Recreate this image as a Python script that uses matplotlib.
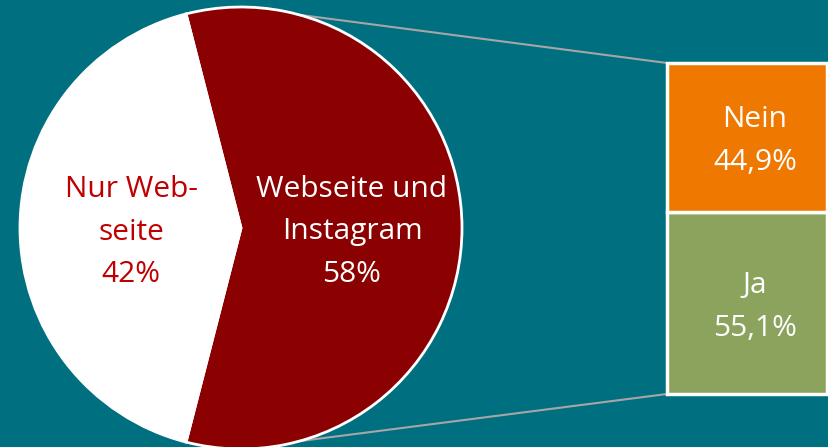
import numpy as np
import matplotlib.pyplot as plt

# pie data
pie_labels = ["Webseite und\nInstagram\n58%", "Nur Web-\nseite\n42%"]
pie_values = [58, 42]
pie_colors = ["#8b0000", "#ffffff"]
pie_text_colors = ["#ffffff", "#c00000"]

# breakdown bar data (bottom to top)
bar_labels = ["Ja\n55,1%", "Nein\n44,9%"]
bar_values = [55.1, 44.9]
bar_colors = ["#8ca35e", "#ef7800"]

bg = "#006f80"
W, H = 829, 447

fig = plt.figure(figsize=(W / 100, H / 100), dpi=100, facecolor=bg)
ax = fig.add_axes([0, 0, 1, 1])
ax.set_facecolor(bg)

plt.rcParams["font.family"] = ["Open Sans", "DejaVu Sans"]

cx, cy, r = 241, 219, 221
start = -pie_values[0] / 100 * 360 / 2
wedges, _ = ax.pie(pie_values, colors=pie_colors, startangle=start, counterclock=True,
                   center=(cx, cy), radius=r, frame=True,
                   wedgeprops=dict(edgecolor="white", linewidth=2))
ax.set_xlim(0, W)
ax.set_ylim(0, H)
ax.set_aspect("equal")
ax.axis("off")

fs = 21.5
ls = 1.62
ax.text(352, 215, pie_labels[0], ha="center", va="center", fontsize=fs,
        color=pie_text_colors[0], linespacing=ls)
ax.text(131, 215, pie_labels[1], ha="center", va="center", fontsize=fs,
        color=pie_text_colors[1], linespacing=ls)

# stacked bar
bx, bw = 747, 160
b0, bh = 53, 331
bottom = b0
for lab, v, c in zip(bar_labels, bar_values, bar_colors):
    h = v / 100 * bh
    ax.bar(bx, h, width=bw, bottom=bottom, color=c, edgecolor="white", linewidth=2.5)
    ax.text(bx + 8, bottom + h / 2 - 4, lab, ha="center", va="center", fontsize=fs,
            color="white", linespacing=ls)
    bottom += h

# connector lines
ang = np.deg2rad(74.7)
ax.plot([cx + r * np.cos(ang), bx - bw / 2], [cy + r * np.sin(ang), b0 + bh],
        color="#a6a6a6", lw=1.5, zorder=0.5)
ax.plot([cx + r * np.cos(ang), bx - bw / 2], [cy - r * np.sin(ang), b0],
        color="#a6a6a6", lw=1.5, zorder=0.5)

fig.savefig("out.png", dpi=100, facecolor=bg)
